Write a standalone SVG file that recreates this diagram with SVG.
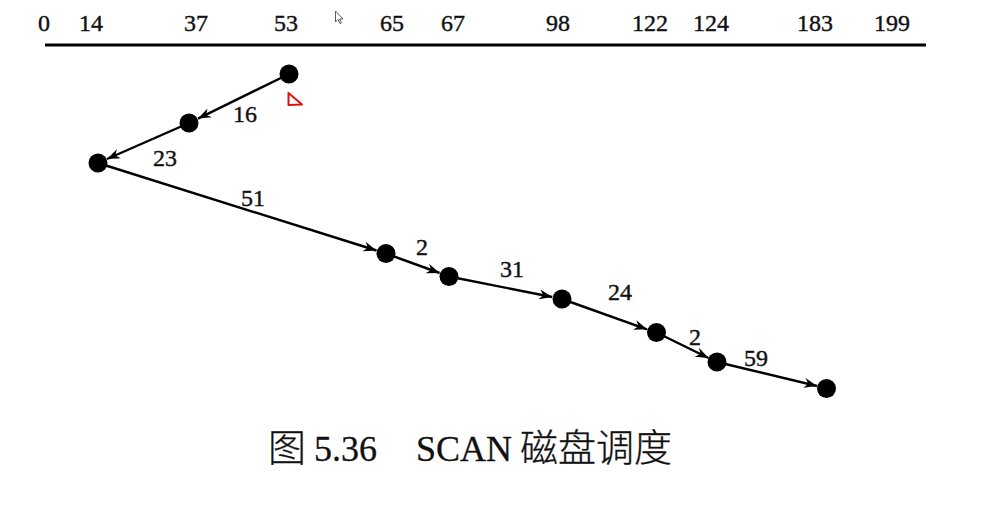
<svg xmlns="http://www.w3.org/2000/svg" width="1004" height="506" viewBox="0 0 1004 506">
<style>
.ax{font-family:"Liberation Serif","Times New Roman",serif;font-size:24px;fill:#111;stroke:#111;stroke-width:0.4;text-anchor:middle}
.lb{font-family:"Liberation Serif","Times New Roman",serif;font-size:24px;fill:#111;stroke:#111;stroke-width:0.4;text-anchor:middle}
.cap{font-family:"Liberation Serif","Noto Sans CJK SC",serif;font-size:36px;fill:#111;stroke:#111;stroke-width:0.3}
.cjk{font-family:"Noto Sans CJK SC","Liberation Serif",sans-serif;font-size:38px;font-weight:300}
.node{fill:#000}
.edge{stroke:#000;stroke-width:2.4;fill:none;marker-end:url(#ah)}
</style>
<defs>
<marker id="ah" markerUnits="userSpaceOnUse" markerWidth="16" markerHeight="12" refX="13" refY="6" orient="auto">
<path d="M0,1 L13,6 L0,11 L4,6 z" fill="#000"/>
</marker>
</defs>
<rect width="1004" height="506" fill="#fff"/>
<g id="axis">
<line x1="45" y1="45" x2="926" y2="45" stroke="#000" stroke-width="3"/>
<text class="ax" x="44" y="31">0</text>
<text class="ax" x="91" y="31">14</text>
<text class="ax" x="196" y="31">37</text>
<text class="ax" x="286" y="31">53</text>
<text class="ax" x="392" y="31">65</text>
<text class="ax" x="453" y="31">67</text>
<text class="ax" x="558" y="31">98</text>
<text class="ax" x="650" y="31">122</text>
<text class="ax" x="711" y="31">124</text>
<text class="ax" x="815" y="31">183</text>
<text class="ax" x="892" y="31">199</text>
</g>
<g id="connectors">
<line class="edge" x1="289" y1="74" x2="198" y2="118.6"/>
<line class="edge" x1="189" y1="123" x2="107" y2="159"/>
<line class="edge" x1="98" y1="163" x2="376.5" y2="250.5"/>
<line class="edge" x1="386" y1="253.5" x2="439.6" y2="273"/>
<line class="edge" x1="449" y1="276.5" x2="552.2" y2="297"/>
<line class="edge" x1="562" y1="299" x2="647" y2="329.3"/>
<line class="edge" x1="656.5" y1="332.5" x2="708.5" y2="358"/>
<line class="edge" x1="717" y1="362" x2="817" y2="386"/>
<text class="lb" x="245" y="122">16</text>
<text class="lb" x="165" y="166">23</text>
<text class="lb" x="253" y="206">51</text>
<text class="lb" x="422" y="255">2</text>
<text class="lb" x="512" y="277">31</text>
<text class="lb" x="620" y="300">24</text>
<text class="lb" x="695" y="345">2</text>
<text class="lb" x="756" y="366">59</text>
</g>
<g id="n53"><circle class="node" cx="289" cy="74" r="9.5"/></g>
<g id="n37"><circle class="node" cx="189" cy="123" r="9.5"/></g>
<g id="n14"><circle class="node" cx="98" cy="163" r="9.5"/></g>
<g id="n65"><circle class="node" cx="386" cy="253.5" r="9.5"/></g>
<g id="n67"><circle class="node" cx="449" cy="276.5" r="9.5"/></g>
<g id="n98"><circle class="node" cx="562" cy="299" r="9.5"/></g>
<g id="n122"><circle class="node" cx="656.5" cy="332.5" r="9.5"/></g>
<g id="n124"><circle class="node" cx="717" cy="362" r="9.5"/></g>
<g id="n183"><circle class="node" cx="826.5" cy="388.5" r="9.5"/></g>
<g id="mark">
<path d="M288.5,93 L288.5,105 L302,104.5 Z" fill="none" stroke="#e01010" stroke-width="2" stroke-linejoin="round"/>
</g>
<g id="cursor">
<path d="M335.5,11 L335.5,22 L338,19.5 L340,23.5 L341.5,22.8 L339.6,19 L343,19 Z" fill="#fff" stroke="#333" stroke-width="0.8"/>
</g>
<g id="caption">
<text class="cap" y="461"><tspan class="cjk" x="268">图</tspan><tspan x="314">5.36</tspan><tspan x="416">SCAN</tspan><tspan class="cjk" x="520">磁盘调度</tspan></text>
</g>
</svg>
